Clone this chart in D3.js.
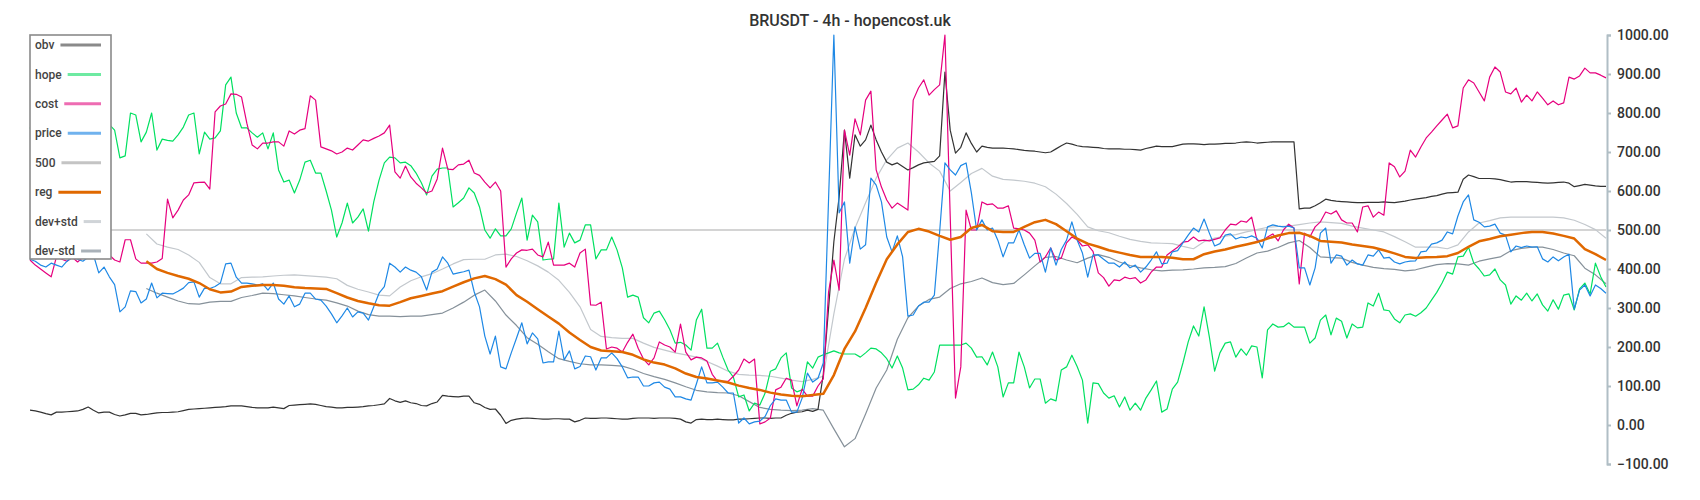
<!DOCTYPE html>
<html><head><meta charset="utf-8">
<script src="https://cdn.jsdelivr.net/npm/d3@7"></script>
<style>
body{margin:0;background:#fff}
svg{display:block;background:#fff}
text{font-family:Roboto,"Noto Sans",sans-serif}
</style>
</head><body>
<svg id="c" width="1700" height="500"></svg>
<script>
const chartTitle = "BRUSDT - 4h - hopencost.uk";
const yTicks = [-100,0,100,200,300,400,500,600,700,800,900,1000];
const legendNames = ["obv","hope","cost","price","500","reg","dev+std","dev-std"];
const level500 = 500;

// fine series: one value per candle (299 candles)
const obv = [38,36,33,29,26,33,33,34,35,36,
40,46,38,31,33,33,27,23,26,30,
30,26,27,29,31,32,32,33,34,37,
40,41,42,43,44,45,46,47,49,49,
49,47,45,44,44,44,46,44,42,50,
51,52,53,54,53,50,47,46,44,44,
45,45,46,47,49,50,52,54,68,62,
58,62,57,55,50,49,55,59,76,74,
73,72,74,74,57,53,45,40,41,25,
4,12,15,17,18,17,16,15,15,16,
16,15,15,8,12,18,17,17,18,18,
17,16,15,15,17,18,18,18,17,18,
18,18,17,15,8,5,14,15,14,14,
15,14,13,13,15,15,16,17,18,18,
17,18,18,25,30,33,34,38,35,40,
130,300,470,585,756,633,744,715,731,769,
731,700,674,667,672,663,654,660,667,672,
674,676,690,905,756,697,712,749,722,700,
715,712,710,710,710,709,708,706,704,703,
702,700,698,700,708,716,723,720,716,714,
713,712,711,709,708,708,708,707,707,706,
705,709,712,715,714,714,714,717,720,721,
721,720,719,720,720,721,722,722,723,725,
726,725,723,724,725,726,726,726,726,726,
554,556,556,562,570,579,576,574,573,572,
571,570,570,571,571,571,572,571,570,572,
574,577,579,581,583,586,588,592,595,596,
597,630,641,637,632,632,632,631,629,626,
623,624,624,624,623,622,621,620,621,622,
623,620,611,614,617,615,613,612,612];

const hope = [760,790,745,720,770,800,760,790,800,740,
740,770,785,760,790,770,756,685,690,800,
795,726,751,800,705,733,730,728,744,764,
795,800,695,751,733,736,754,872,892,800,
762,762,749,738,749,708,749,654,623,628,
595,628,674,679,646,646,600,551,482,518,
569,518,533,554,497,572,628,672,687,685,
672,674,665,646,621,590,638,656,659,659,
559,570,582,608,595,559,500,479,503,485,
485,503,544,582,474,538,521,423,425,426,
569,456,492,467,474,513,513,426,449,449,
482,449,403,328,333,328,275,262,287,292,
270,244,210,212,205,192,269,297,197,197,
210,174,141,123,72,77,36,56,51,82,
138,144,172,185,95,85,90,162,146,174,
180,185,190,185,182,182,182,174,185,197,
195,185,170,146,177,146,90,92,103,120,
115,136,205,205,205,205,205,210,197,174,
175,154,187,149,72,108,108,187,149,95,
118,118,56,67,62,141,149,179,150,115,
5,108,106,82,69,75,46,72,38,56,
38,69,90,113,33,41,92,110,159,213,
254,228,303,226,138,185,210,213,174,195,
179,203,200,121,244,259,251,252,262,251,
251,251,210,223,269,282,231,274,266,223,
259,249,251,313,305,338,295,293,272,262,
282,285,279,288,300,320,340,364,392,387,
431,433,456,415,400,382,385,400,372,359,
310,331,320,338,318,336,308,292,321,297,
333,336,295,349,364,336,415,380,354];

const cost = [423,410,400,390,380,431,425,420,430,418,
430,440,445,450,440,436,423,418,475,475,
426,415,415,415,418,427,579,531,551,577,
590,621,622,623,605,803,818,823,849,848,
841,774,718,708,723,723,726,726,715,754,
746,756,760,844,833,713,708,703,695,700,
710,705,718,731,728,735,741,749,769,649,
633,664,636,620,608,595,600,631,710,656,
655,667,669,679,646,640,623,608,623,600,
405,426,441,449,448,451,436,431,469,410,
410,410,415,405,441,451,308,307,315,195,
200,197,187,212,233,197,169,154,172,213,
205,200,187,259,187,167,174,172,164,130,
112,112,112,125,141,169,159,169,3,8,
18,90,97,120,115,49,92,74,74,100,
118,341,423,346,756,692,785,744,833,856,
654,610,577,556,569,560,551,833,864,885,
846,860,872,1000,535,69,149,551,500,500,
572,565,567,556,556,562,505,503,500,492,
474,418,431,454,423,428,467,482,475,459,
462,445,390,378,356,372,370,379,375,378,
364,372,392,405,405,436,446,456,469,471,
482,472,474,472,476,480,500,515,513,523,
520,533,474,472,482,490,472,500,515,505,
362,492,482,508,521,546,541,549,526,518,
518,495,559,562,533,546,538,672,662,636,
651,705,687,713,736,751,767,782,797,762,
767,864,885,877,854,831,892,918,905,854,
849,864,828,846,831,854,838,821,831,821,
826,892,887,895,915,903,903,897,890];

const price = [425,420,410,405,415,410,405,420,430,425,
420,430,436,390,405,380,360,290,303,344,
342,313,323,364,326,338,337,336,343,351,
365,367,328,351,350,355,364,413,415,379,
364,364,362,359,362,346,364,323,310,331,
303,310,338,338,323,320,305,285,262,280,
300,277,290,287,269,303,338,355,415,405,
392,405,397,392,380,346,392,400,431,415,
387,390,393,397,341,303,228,182,228,149,
144,185,223,262,208,236,221,159,162,162,
241,167,190,144,150,177,175,141,172,172,
185,170,149,121,123,123,100,100,108,110,
97,92,72,72,67,64,105,149,108,108,
110,97,82,82,5,18,3,8,10,22,
50,67,64,64,33,33,69,133,110,120,
159,580,1000,544,572,415,508,451,462,633,
615,572,482,444,485,431,279,282,305,315,
315,333,495,672,654,641,665,672,595,500,
526,500,505,474,431,467,467,500,462,428,
440,440,392,454,410,450,474,521,474,441,
379,436,436,425,415,415,405,418,403,410,
392,405,423,444,413,415,444,447,467,487,
505,495,528,492,459,465,487,490,477,482,
480,485,479,454,508,513,510,508,510,505,
403,403,359,403,492,505,415,436,433,410,
423,413,410,436,433,449,428,430,418,413,
418,420,421,444,446,464,467,474,495,490,
536,572,590,526,520,508,510,515,492,487,
444,459,455,459,456,457,426,418,431,421,
431,438,297,346,359,331,359,350,338];

// smooth series: one value every second candle
const reg = [null,null,null,null,null,null,null,null,null,null,
null,420,400,390,382,375,364,348,340,342,
354,357,359,359,357,353,351,350,349,338,
327,318,312,307,306,315,325,331,337,343,
355,366,376,382,374,360,333,316,297,278,
260,237,218,200,191,189,187,180,168,160,
155,145,132,123,119,114,109,101,95,90,
83,78,75,74,77,80,128,195,240,300,
365,425,463,495,503,496,485,475,482,505,
513,497,495,495,508,520,526,515,497,478,
465,457,448,442,436,431,431,431,429,425,
425,438,445,450,457,463,469,478,486,492,
493,485,472,470,468,463,459,455,448,440,
431,428,430,431,433,441,457,471,477,484,
488,492,495,495,491,485,478,451,438,423];

const devPlus = [null,null,null,null,null,null,null,null,null,null,
null,490,464,456,450,436,417,378,362,362,
378,379,380,382,384,385,383,381,379,375,
358,348,341,333,331,354,370,380,388,400,
413,424,425,425,436,438,432,421,408,392,
371,340,303,245,227,224,222,222,210,199,
192,185,180,174,163,151,138,130,128,127,
125,120,115,111,117,125,285,425,505,570,
633,680,710,723,700,672,651,600,622,645,
658,638,630,628,625,620,611,592,568,540,
508,498,493,484,476,471,467,466,465,458,
452,470,479,484,488,495,501,507,509,510,
514,518,521,519,517,510,505,500,495,483,
470,456,456,456,452,462,495,518,524,531,
533,533,533,533,533,531,525,514,501,479];

const devMinus = [null,null,null,null,null,null,null,null,null,null,
null,350,338,328,318,311,310,315,317,317,
327,332,338,337,334,331,327,323,320,313,
305,292,283,279,279,278,279,279,283,287,
300,315,333,346,318,282,255,224,207,188,
170,163,157,154,154,153,151,143,132,124,
117,108,98,89,85,83,82,75,60,45,
40,38,37,38,42,38,-10,-56,-35,28,
95,141,220,275,305,322,328,350,362,368,
377,365,360,363,385,408,430,432,423,416,
428,437,430,418,409,403,398,395,397,398,
400,403,404,406,414,428,441,446,455,467,
473,455,431,429,428,417,410,404,401,399,
395,398,405,411,414,413,410,420,426,431,
447,453,456,456,450,441,434,402,385,362];

const W = 1700, H = 500;
const svg = d3.select("#c");
const n = price.length;
const x = d3.scaleLinear().domain([0, n - 1]).range([30, 1606]);
const y = d3.scaleLinear().domain([-100, 1000]).range([464, 35]);

const lineFine = d3.line()
  .defined(d => d != null)
  .x((d, i) => x(i))
  .y(d => y(d));
const lineCoarse = d3.line()
  .defined(d => d != null)
  .x((d, i) => x(i * 2))
  .y(d => y(d));

const styles = {
  "obv":     {c:"#333333", w:1.2, lc:"#8a8a8a"},
  "hope":    {c:"#00e060", w:1.2, lc:"#6eeaa2"},
  "cost":    {c:"#e6007e", w:1.2, lc:"#ee6cb2"},
  "price":   {c:"#1e88e5", w:1.2, lc:"#70b2ee"},
  "500":     {c:"#c6c6c6", w:1.6, lc:"#c4c4c4"},
  "reg":     {c:"#e06800", w:2.5, lc:"#e06800"},
  "dev+std": {c:"#c3c8cd", w:1.2, lc:"#d0d4d8"},
  "dev-std": {c:"#86919a", w:1.2, lc:"#a9b1b8"}
};

const g = svg.append("g");

g.append("line")
  .attr("x1", x(0)).attr("x2", x(n - 1))
  .attr("y1", y(level500)).attr("y2", y(level500))
  .attr("stroke", styles["500"].c).attr("stroke-width", styles["500"].w);

function draw(arr, key, gen) {
  g.append("path").datum(arr)
    .attr("fill", "none")
    .attr("stroke", styles[key].c)
    .attr("stroke-width", styles[key].w)
    .attr("stroke-linejoin", "round")
    .attr("d", gen);
}
draw(devPlus, "dev+std", lineCoarse);
draw(devMinus, "dev-std", lineCoarse);
draw(obv, "obv", lineFine);
draw(hope, "hope", lineFine);
draw(cost, "cost", lineFine);
draw(price, "price", lineFine);
draw(reg, "reg", lineCoarse);

const axis = d3.axisRight(y)
  .tickValues(yTicks)
  .tickFormat(d3.format(".2f"))
  .tickSize(4)
  .tickPadding(6);
const ag = svg.append("g").attr("transform", "translate(1607,0)").call(axis);
ag.select(".domain").attr("stroke", "#b0bec5").attr("stroke-width", 2);
ag.selectAll(".tick line").attr("stroke", "#b0bec5").attr("stroke-width", 2);
ag.selectAll(".tick text")
  .attr("fill", "#333")
  .style("font-size", "14px")
  .style("font-weight", "500")
  .style("font-family", "Roboto, 'Noto Sans', sans-serif");

svg.append("text")
  .attr("x", W / 2).attr("y", 26)
  .attr("text-anchor", "middle")
  .attr("fill", "#333")
  .style("font-size", "16px")
  .style("font-weight", "500")
  .text(chartTitle);

const lg = svg.append("g");
lg.append("rect")
  .attr("x", 30).attr("y", 35).attr("width", 81).attr("height", 224)
  .attr("fill", "#fff").attr("stroke", "#8a8a8a").attr("stroke-width", 1.6);
const ly = d3.scalePoint().domain(legendNames).range([45, 251]);
legendNames.forEach(name => {
  const yy = ly(name);
  const t = lg.append("text")
    .attr("x", 35).attr("y", yy).attr("dy", "0.35em")
    .attr("fill", "#444")
    .style("font-size", "12px")
    .style("font-weight", "500")
    .text(name);
  const tw = t.node().getComputedTextLength();
  lg.append("line")
    .attr("x1", 35 + tw + 6).attr("x2", 101)
    .attr("y1", yy).attr("y2", yy)
    .attr("stroke", styles[name].lc)
    .attr("stroke-width", 3);
});
</script>
</body></html>
